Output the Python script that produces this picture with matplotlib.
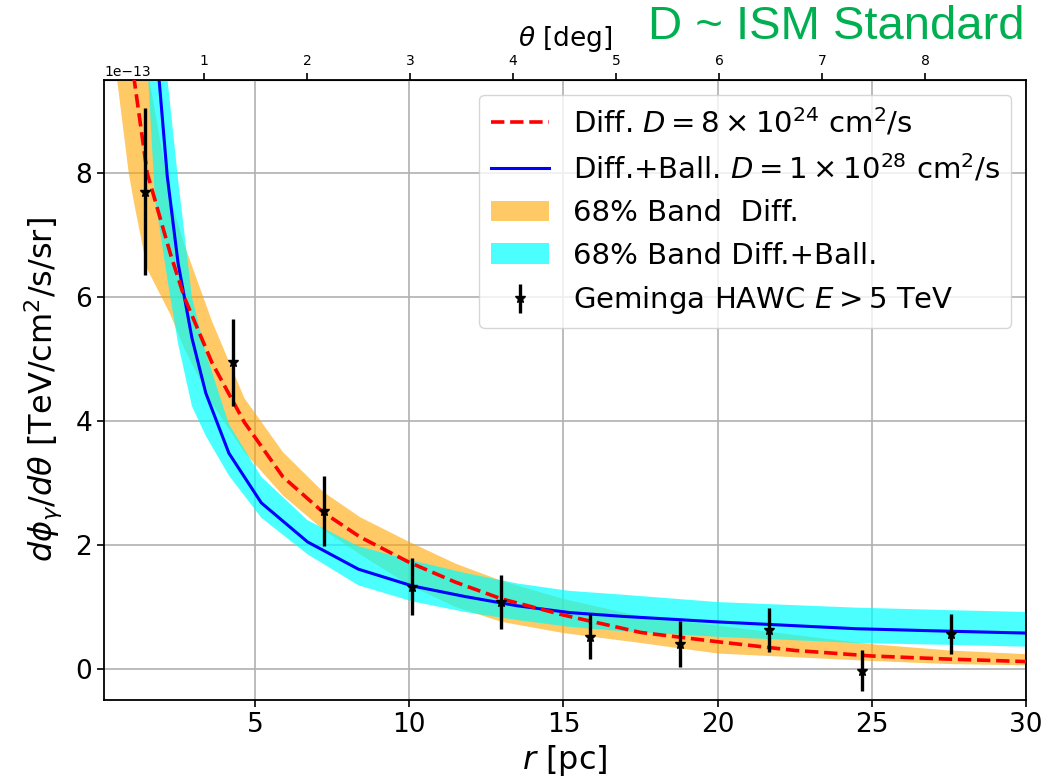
import numpy as np
import matplotlib
matplotlib.use("Agg")
from matplotlib import pyplot as plt

# flux values in units of 1e-13 TeV/cm^2/s/sr
scale = 1e-13

# pure diffusion model + 68% band
r_diff = [0.5, 0.9, 1.08, 1.5, 2.25, 2.7, 3.6, 4.65, 5.9, 7.2, 8.4, 10.0, 11.5,
          13.0, 15.0, 17.5, 20.0, 22.5, 25.0, 27.5, 30.0]
diff = [13.5, 10.5, 9.5, 8.0, 6.7, 6.0, 4.94, 3.98, 3.1, 2.53, 2.13, 1.72, 1.40,
        1.13, 0.87, 0.59, 0.44, 0.30, 0.21, 0.16, 0.12]
diff_lo = [9.6, 8.0, 7.5, 6.45, 5.72, 5.17, 4.28, 3.5, 2.8, 2.25, 1.85, 1.35, 1.0,
           0.76, 0.58, 0.42, 0.25, 0.19, 0.13, 0.08, 0.06]
diff_hi = [16.0, 12.5, 11.5, 9.7, 7.6, 6.85, 5.61, 4.37, 3.5, 2.86, 2.45, 2.05, 1.7,
           1.42, 1.13, 0.85, 0.7, 0.55, 0.40, 0.30, 0.24]

# diffusion + ballistic model + 68% band
r_ball = [1.5, 1.75, 2.15, 2.5, 2.95, 3.4, 4.15, 5.2, 6.7, 8.35, 10.1, 11.8, 13.5,
          15.2, 16.9, 20.0, 24.5, 27.5, 30.0]
ball = [12.3, 10.3, 7.95, 6.55, 5.34, 4.45, 3.48, 2.68, 2.05, 1.61, 1.34, 1.17, 1.02,
        0.91, 0.85, 0.76, 0.65, 0.61, 0.58]
ball_lo = [9.8, 7.6, 6.3, 5.25, 4.24, 3.76, 3.12, 2.44, 1.85, 1.35, 1.09, 0.92, 0.79,
           0.68, 0.61, 0.52, 0.42, 0.39, 0.36]
ball_hi = [15.0, 12.5, 9.55, 7.9, 6.0, 5.1, 3.95, 3.1, 2.4, 1.98, 1.75, 1.55, 1.38,
           1.26, 1.2, 1.08, 0.99, 0.95, 0.92]

# Geminga HAWC data, E > 5 TeV
r_hawc = [1.43, 4.29, 7.24, 10.1, 12.98, 15.86, 18.78, 21.67, 24.68, 27.57]
flux_hawc = [7.7, 4.95, 2.55, 1.33, 1.08, 0.52, 0.40, 0.63, -0.03, 0.56]
err_hawc = [1.35, 0.7, 0.57, 0.46, 0.44, 0.36, 0.37, 0.36, 0.33, 0.32]

deg_per_pc = 0.2993

def sc(v):
    return np.array(v) * scale

fig = plt.figure(figsize=(10.53, 7.84), dpi=100)
ax = fig.add_axes([0.0988, 0.1071, 0.8756, 0.7909])

ax.plot(r_diff, sc(diff), '--', color='red', lw=2.6, zorder=3,
        label=r'Diff. $D=8\times10^{24}$ cm$^2$/s')
ax.plot(r_ball, sc(ball), '-', color='blue', lw=2.2, zorder=2.5,
        label=r'Diff.+Ball. $D=1\times10^{28}$ cm$^2$/s')
ax.fill_between(r_diff, sc(diff_lo), sc(diff_hi), color='orange', alpha=0.6,
                lw=0, zorder=1, label='68% Band  Diff.')
ax.fill_between(r_ball, sc(ball_lo), sc(ball_hi), color='cyan', alpha=0.7,
                lw=0, zorder=1.1, label='68% Band Diff.+Ball.')
ax.errorbar(r_hawc, sc(flux_hawc), yerr=sc(err_hawc), fmt='*', color='black',
            ms=8, elinewidth=2.4, capsize=0, zorder=4,
            label=r'Geminga HAWC $E>5$ TeV')

ax.set_xlim(0.1, 30)
ax.set_ylim(-0.5 * scale, 9.5 * scale)
ax.grid(True, color='#b0b0b0', lw=1.2)
ax.set_axisbelow(True)
ax.tick_params(labelsize=19, length=5, width=1.2)
ax.yaxis.get_offset_text().set_fontsize(10)
for s in ax.spines.values():
    s.set_linewidth(1.3)

ax.set_xlabel(r'$r$ [pc]', fontsize=23, labelpad=4)
ax.set_ylabel(r'$d\phi_\gamma/d\theta$ [TeV/cm$^2$/s/sr]', fontsize=23, labelpad=8)

top = ax.secondary_xaxis('top', functions=(lambda r: r * deg_per_pc,
                                           lambda t: t / deg_per_pc))
top.set_xticks([1, 2, 3, 4, 5, 6, 7, 8])
top.tick_params(labelsize=10, length=5, width=1.2)
top.set_xlabel(r'$\theta$ [deg]', fontsize=19, labelpad=6)

leg = ax.legend(loc='upper right', fontsize=21, framealpha=0.8)

fig.text(0.973, 0.965, 'D ~ ISM Standard', color='#00B050', fontsize=34,
         family='Liberation Sans', ha='right', va='center')

fig.savefig('out.png', dpi=100)
